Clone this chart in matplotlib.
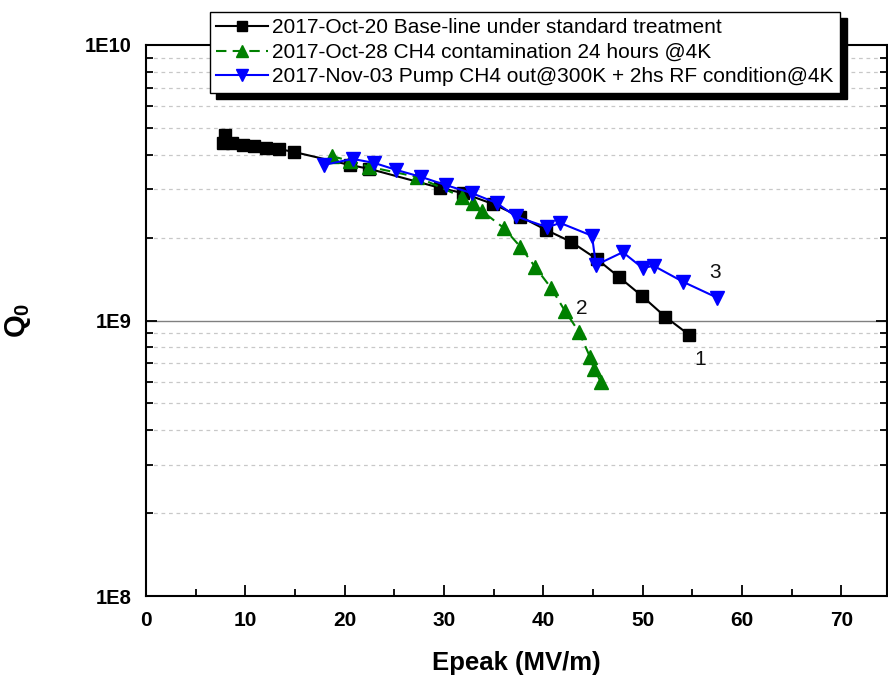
import matplotlib
matplotlib.use("Agg")
import matplotlib.pyplot as plt
from matplotlib.ticker import FixedLocator, FuncFormatter, LogLocator, MultipleLocator, NullFormatter

plt.rcParams['font.family'] = ['Liberation Sans', 'DejaVu Sans']
plt.rcParams['mathtext.fontset'] = 'custom'
plt.rcParams['mathtext.rm'] = 'Liberation Sans'
plt.rcParams['mathtext.bf'] = 'Liberation Sans:bold'

# Series 1: 2017-Oct-20 baseline
e1 = [7.75, 7.96, 8.66, 9.77, 10.9, 12.1, 13.4, 14.9, 20.5, 22.5, 29.6, 31.9, 34.9,
      37.7, 40.3, 42.8, 45.4, 47.6, 49.9, 52.3, 54.7]
q1 = [4.41e9, 4.71e9, 4.41e9, 4.33e9, 4.30e9, 4.23e9, 4.19e9, 4.09e9, 3.67e9, 3.55e9,
      3.03e9, 2.90e9, 2.65e9, 2.38e9, 2.13e9, 1.93e9, 1.67e9, 1.44e9, 1.23e9, 1.03e9, 0.886e9]

# Series 2: 2017-Oct-28 CH4 contamination
e2 = [18.7, 20.5, 22.5, 27.3, 31.8, 32.9, 33.8, 36.0, 37.7, 39.2, 40.8, 42.2, 43.6,
      44.7, 45.1, 45.8]
q2 = [3.95e9, 3.80e9, 3.61e9, 3.32e9, 2.81e9, 2.67e9, 2.50e9, 2.17e9, 1.85e9, 1.56e9,
      1.31e9, 1.08e9, 0.908e9, 0.737e9, 0.667e9, 0.598e9]

# Series 3: 2017-Nov-03 pump CH4 out + RF condition
e3 = [17.9, 20.8, 23.0, 25.2, 27.7, 30.2, 32.8, 35.3, 37.2, 40.4, 41.7, 44.9, 45.3,
      48.0, 50.0, 51.1, 54.1, 57.5]
q3 = [3.67e9, 3.86e9, 3.73e9, 3.52e9, 3.32e9, 3.10e9, 2.90e9, 2.67e9, 2.39e9, 2.18e9,
      2.26e9, 2.03e9, 1.59e9, 1.77e9, 1.55e9, 1.58e9, 1.38e9, 1.21e9]

labels = ["2017-Oct-20 Base-line under standard treatment",
          "2017-Oct-28 CH4 contamination 24 hours @4K",
          "2017-Nov-03 Pump CH4 out@300K + 2hs RF condition@4K"]

curve_tags = ["1", "2", "3"]
tag_x = [55.8, 43.9, 57.3]
tag_y = [7.19e8, 1.11e9, 1.49e9]

fig = plt.figure(figsize=(8.88, 6.81), dpi=100)
ax = fig.add_axes([146/888, 1-596/681, 741/888, 551/681])

ax.set_yscale('log')
ax.set_xlim(0, 74.6)
ax.set_ylim(1e8, 1e10)

# grid
ax.yaxis.set_minor_locator(LogLocator(base=10, subs=range(2, 10)))
ax.yaxis.set_minor_formatter(NullFormatter())
ax.grid(which='minor', axis='y', linestyle=(0, (3, 3)), color='#c8c8c8', linewidth=0.9)
ax.axhline(1e9, color='#808080', linewidth=1.0, zorder=1)

l1, = ax.plot(e1, q1, color='black', marker='s', markersize=8, linewidth=1.5, zorder=3)
l2, = ax.plot(e2, q2, color='#008000', marker='^', markersize=10.5, linewidth=1.5,
              linestyle=(0, (5, 3)), zorder=4)
l3, = ax.plot(e3, q3, color='#0000ff', marker='v', markersize=10.5, linewidth=1.5, zorder=5)

for t, x, y in zip(curve_tags, tag_x, tag_y):
    ax.text(x, y, t, fontsize=15, ha='center', va='center', color='#111111')

# ticks
ax.yaxis.set_major_locator(FixedLocator([1e8, 1e9, 1e10]))
ax.yaxis.set_major_formatter(FuncFormatter(lambda v, p: {1e8: '1E8', 1e9: '1E9', 1e10: '1E10'}.get(v, '')))
ax.xaxis.set_major_locator(MultipleLocator(10))
ax.xaxis.set_minor_locator(MultipleLocator(5))
ax.tick_params(axis='both', which='major', direction='in', length=8, width=1.3,
               right=True, top=False)
ax.tick_params(axis='both', which='minor', direction='in', length=5, width=1.3,
               right=True, top=False)
ax.tick_params(axis='x', pad=11)
ax.tick_params(axis='y', pad=10)
for lab in ax.get_xticklabels():
    lab.set_fontweight('bold')
    lab.set_fontsize(15)
for lab in ax.get_yticklabels():
    lab.set_fontweight('bold')
    lab.set_fontsize(14.5)
for s in ax.spines.values():
    s.set_linewidth(1.5)

ax.set_xlabel('Epeak (MV/m)', fontsize=18.5, fontweight='bold', labelpad=15)
ax.set_ylabel(r'$\mathbf{Q_0}$', fontsize=21)
ax.yaxis.set_label_coords(-0.152, 0.5)

leg = ax.legend([l1, l2, l3], labels, loc='upper left',
                bbox_to_anchor=(210/888, 1-12/681), bbox_transform=fig.transFigure,
                borderaxespad=0, fontsize=15, handlelength=2.5, handletextpad=0.2,
                labelspacing=0.27, borderpad=0.3, fancybox=False, framealpha=1,
                edgecolor='black', markerscale=0.85,
                shadow={'color': 'black', 'alpha': 1, 'ox': 4.5, 'oy': -4.5})
leg.get_frame().set_linewidth(1.0)
leg.set_zorder(10)

fig.savefig('out.png', dpi=100)
